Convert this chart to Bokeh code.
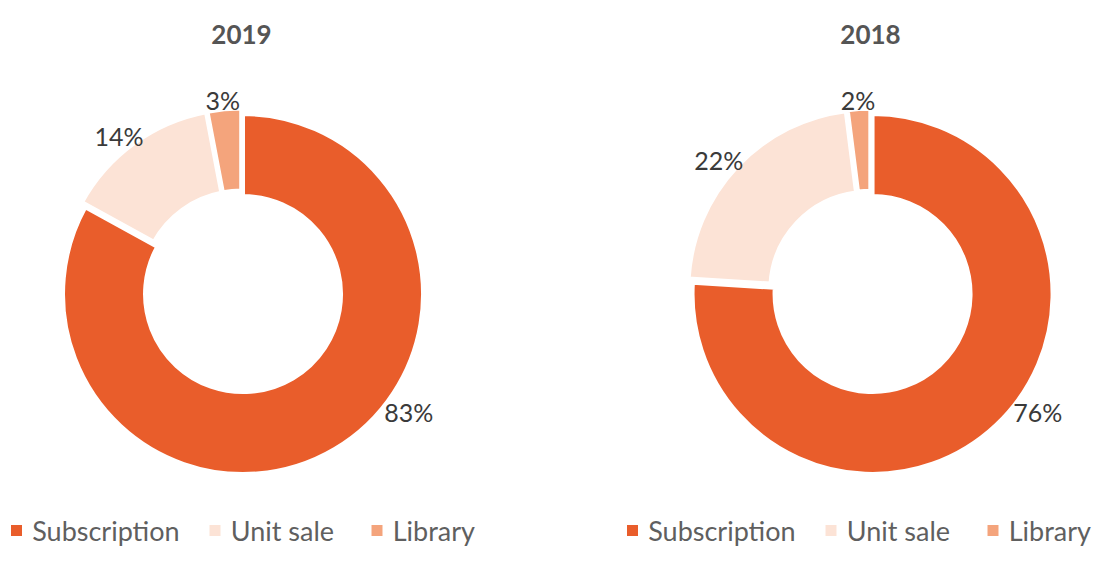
import math
from bokeh.plotting import figure
from bokeh.models import Range1d, ColumnDataSource
from bokeh.core.properties import value
from bokeh.embed import file_html
from bokeh.resources import INLINE

# ---- data ----
years = ["2019", "2018"]
categories = ["Subscription", "Unit sale", "Library"]
share_2019 = [83, 14, 3]
share_2018 = [76, 22, 2]
colors = ["#E95D2B", "#FCE3D6", "#F4A47C"]

shares = [share_2019, share_2018]

# ---- layout constants (1 data unit = 1 px) ----
W, H = 1094, 547
FONT = "Lato"


def Y(ytop):
    return H - ytop


centers = [(241, Y(291)), (870, Y(291.3))]
R_OUT, R_IN, EXPLODE = 180, 98, 3
MAIN_LABEL_ANGLE = 128
MAIN_LABEL_GAP = 4
legend_left = [16, 632]
legend_item_dx = [0, 198.5, 360.5]
legend_text_gap = 15.7
legend_y = Y(530)

p = figure(width=W, height=H, x_range=Range1d(0, W), y_range=Range1d(0, H),
           output_backend="svg", toolbar_location=None,
           x_axis_location=None, y_axis_location=None, min_border=0)
p.grid.visible = False
p.outline_line_color = None
p.background_fill_color = "white"
p.border_fill_color = "white"

wx, wy, ws, we, wc = [], [], [], [], []
lx, ly, lt = [], [], []
for (cx, cy), vals in zip(centers, shares):
    total = float(sum(vals))
    theta = 0.0
    for i, v in enumerate(vals):
        span = 360.0 * v / total
        t1, t2 = theta, theta + span
        mid = (t1 + t2) / 2.0
        theta = t2
        mr = math.radians(mid)
        wx.append(cx + EXPLODE * math.sin(mr))
        wy.append(cy + EXPLODE * math.cos(mr))
        ws.append(math.radians(90 - t2))
        we.append(math.radians(90 - t1))
        wc.append(colors[i])
        # label placed just outside the ring
        txt = f"{v}%"
        phi = MAIN_LABEL_ANGLE if i == 0 else mid
        gap = MAIN_LABEL_GAP if i == 0 else 0
        pr = math.radians(phi)
        hw = 8.4 * len(txt)
        hh = 9.0
        rr = R_OUT + EXPLODE + gap
        lx.append(cx + rr * math.sin(pr) + hw * math.sin(pr))
        ly.append(cy + rr * math.cos(pr) + hh * math.cos(pr))
        lt.append(txt)

src = ColumnDataSource(dict(x=wx, y=wy, s=ws, e=we, c=wc))
p.annular_wedge(x="x", y="y", inner_radius=R_IN, outer_radius=R_OUT,
                start_angle="s", end_angle="e", direction="anticlock",
                fill_color="c", line_color="white", line_width=4, source=src)

lsrc = ColumnDataSource(dict(x=lx, y=ly, t=lt))
p.text(x="x", y="y", text="t", source=lsrc, text_align="center",
       text_baseline="middle", text_font=value(FONT),
       text_font_size="25px", text_color="#3a3a3a")

# titles
tsrc = ColumnDataSource(dict(x=[c[0] for c in centers], y=[Y(34)] * 2, t=years))
p.text(x="x", y="y", text="t", source=tsrc, text_align="center",
       text_baseline="middle", text_font=value(FONT), text_font_style="bold",
       text_font_size="26px", text_color="#555555")

# legends
qx, qy, qc, tx, ty, tt = [], [], [], [], [], []
for L0 in legend_left:
    for i, cat in enumerate(categories):
        x0 = L0 + legend_item_dx[i]
        qx.append(x0)
        qy.append(legend_y)
        qc.append(colors[i])
        tx.append(x0 + legend_text_gap)
        ty.append(legend_y)
        tt.append(cat)
p.scatter(x=qx, y=qy, marker="square", size=11, fill_color=qc, line_color=None)
p.text(x=tx, y=ty, text=tt, text_align="left", text_baseline="middle",
       text_font=value(FONT), text_font_size="27px", text_color="#5f5f5f")

open("out.html", "w").write(file_html(p, INLINE))
